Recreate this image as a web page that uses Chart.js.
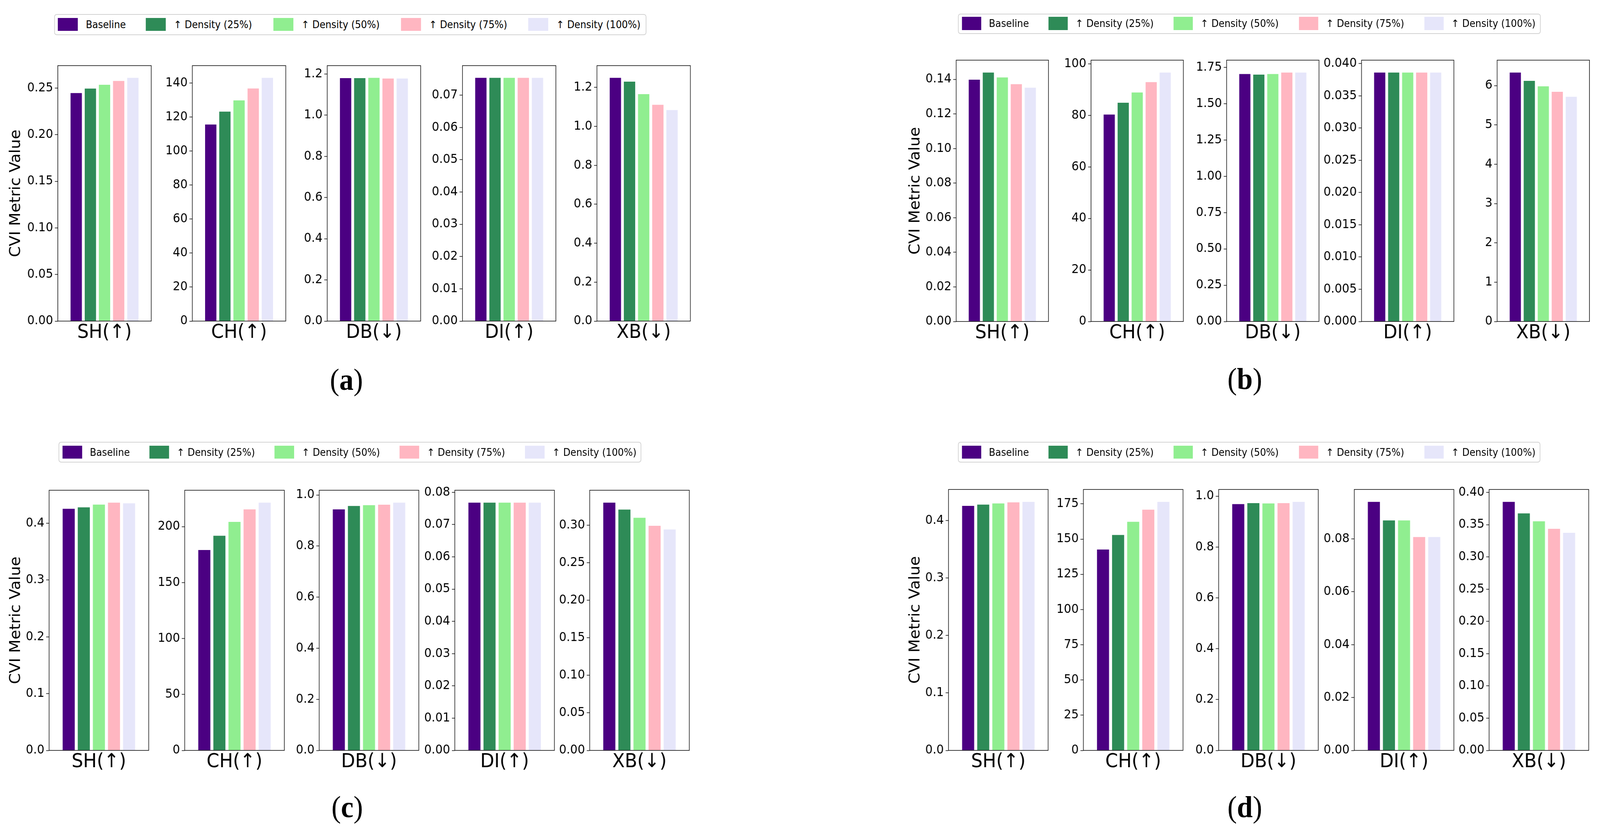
<!DOCTYPE html>
<html>
<head>
<meta charset="utf-8">
<script src="https://cdn.jsdelivr.net/npm/chart.js@4.4.0/dist/chart.umd.min.js"></script>
<style>
    html, body { margin: 0; padding: 0; background: #fff; overflow: hidden; }
    #page { position: absolute; left: 0; top: 0; width: 4401px; height: 2135px; transform-origin: 0 0; font-family: "DejaVu Sans"; }
    canvas { position: absolute; }
    .legend { position: absolute; border: 2px solid #d3d3d3; border-radius: 7px; background: #fff; box-sizing: border-box; }
    .swatch { position: absolute; }
    .legend-text { position: absolute; font-family: "DejaVu Sans"; font-size: 26px; line-height: 1; white-space: nowrap; transform: translateY(-50%); color: #000; }
    .caption { position: absolute; font-family: "Liberation Serif"; font-size: 78px; line-height: 1; transform: translate(-50%, -50%); color: #000; }
</style>
</head>
<body>
<div id="page"></div>
<script>
const seriesNames = ["Baseline", "↑ Density (25%)", "↑ Density (50%)", "↑ Density (75%)", "↑ Density (100%)"];
const seriesColors = ["#4B0082", "#2E8B57", "#90EE90", "#FFB6C1", "#E6E6FA"];
const metricNames = ["SH(↑)", "CH(↑)", "DB(↓)", "DI(↑)", "XB(↓)"];

// panel (a)
const a_SH = [0.2447, 0.2495, 0.2536, 0.2577, 0.2611];
const a_CH = [115.6, 123.2, 129.8, 136.8, 143.1];
const a_DB = [1.180, 1.180, 1.1815, 1.178, 1.178];
const a_DI = [0.0754, 0.0754, 0.0754, 0.0754, 0.0754];
const a_XB = [1.2496, 1.230, 1.1655, 1.111, 1.0837];
const a_SH_ticks = ["0.00", "0.05", "0.10", "0.15", "0.20", "0.25"];
const a_CH_ticks = ["0", "20", "40", "60", "80", "100", "120", "140"];
const a_DB_ticks = ["0.0", "0.2", "0.4", "0.6", "0.8", "1.0", "1.2"];
const a_DI_ticks = ["0.00", "0.01", "0.02", "0.03", "0.04", "0.05", "0.06", "0.07"];
const a_XB_ticks = ["0.0", "0.2", "0.4", "0.6", "0.8", "1.0", "1.2"];

// panel (b)
const b_SH = [0.1398, 0.1439, 0.1411, 0.1372, 0.1352];
const b_CH = [80.3, 84.9, 88.9, 92.9, 96.6];
const b_DB = [1.704, 1.700, 1.704, 1.714, 1.714];
const b_DI = [0.0386, 0.0386, 0.0386, 0.0386, 0.0386];
const b_XB = [6.330, 6.121, 5.981, 5.841, 5.714];
const b_SH_ticks = ["0.00", "0.02", "0.04", "0.06", "0.08", "0.10", "0.12", "0.14"];
const b_CH_ticks = ["0", "20", "40", "60", "80", "100"];
const b_DB_ticks = ["0.00", "0.25", "0.50", "0.75", "1.00", "1.25", "1.50", "1.75"];
const b_DI_ticks = ["0.000", "0.005", "0.010", "0.015", "0.020", "0.025", "0.030", "0.035", "0.040"];
const b_XB_ticks = ["0", "1", "2", "3", "4", "5", "6"];

// panel (c)
const c_SH = [0.4255, 0.4281, 0.4329, 0.4364, 0.4351];
const c_CH = [179.1, 191.8, 204.2, 215.4, 221.4];
const c_DB = [0.9434, 0.957, 0.960, 0.962, 0.970];
const c_DI = [0.0768, 0.0768, 0.0768, 0.0768, 0.0768];
const c_XB = [0.3299, 0.3206, 0.3097, 0.2990, 0.2941];
const c_SH_ticks = ["0.0", "0.1", "0.2", "0.3", "0.4"];
const c_CH_ticks = ["0", "50", "100", "150", "200"];
const c_DB_ticks = ["0.0", "0.2", "0.4", "0.6", "0.8", "1.0"];
const c_DI_ticks = ["0.00", "0.01", "0.02", "0.03", "0.04", "0.05", "0.06", "0.07", "0.08"];
const c_XB_ticks = ["0.00", "0.05", "0.10", "0.15", "0.20", "0.25", "0.30"];

// panel (d)
const d_SH = [0.4256, 0.4278, 0.4299, 0.4317, 0.4325];
const d_CH = [142.6, 152.9, 162.3, 170.9, 176.4];
const d_DB = [0.9686, 0.9725, 0.9716, 0.9725, 0.9775];
const d_DI = [0.0940, 0.0870, 0.0870, 0.0807, 0.0807];
const d_XB = [0.3853, 0.3675, 0.3552, 0.3436, 0.3374];
const d_SH_ticks = ["0.0", "0.1", "0.2", "0.3", "0.4"];
const d_CH_ticks = ["0", "25", "50", "75", "100", "125", "150", "175"];
const d_DB_ticks = ["0.0", "0.2", "0.4", "0.6", "0.8", "1.0"];
const d_DI_ticks = ["0.00", "0.02", "0.04", "0.06", "0.08"];
const d_XB_ticks = ["0.00", "0.05", "0.10", "0.15", "0.20", "0.25", "0.30", "0.35", "0.40"];

// layout of each panel (pixels in the 4401x2135 page)
const panels = [
    {
        label: "a", values: [a_SH, a_CH, a_DB, a_DI, a_XB], ticks: [a_SH_ticks, a_CH_ticks, a_DB_ticks, a_DI_ticks, a_XB_ticks],
        top: 168, height: 654, lefts: [159, 529, 900, 1272, 1642], width: 257, ylabelGap: 114,
        legend: { left: 149, top: 36, width: 1629, height: 54, swatches: [159, 401, 752, 1103, 1453], swTop: 46, swW: 55, swH: 33, textGap: 77 },
        caption: { x: 953, y: 972 }
    },
    {
        label: "b", values: [b_SH, b_CH, b_DB, b_DI, b_XB], ticks: [b_SH_ticks, b_CH_ticks, b_DB_ticks, b_DI_ticks, b_XB_ticks],
        top: 154, height: 669, lefts: [2630, 3001, 3374, 3745, 4118], width: 254, ylabelGap: 111,
        legend: { left: 2635, top: 35, width: 1603, height: 52, swatches: [2646, 2884, 3228, 3573, 3918], swTop: 43, swW: 53, swH: 34, textGap: 74 },
        caption: { x: 3424, y: 970 }
    },
    {
        label: "c", values: [c_SH, c_CH, c_DB, c_DI, c_XB], ticks: [c_SH_ticks, c_CH_ticks, c_DB_ticks, c_DI_ticks, c_XB_ticks],
        top: 1255, height: 666, lefts: [135, 508, 878, 1251, 1622], width: 274, ylabelGap: 90,
        legend: { left: 161, top: 1131, width: 1603, height: 53, swatches: [172, 411, 755, 1099, 1444], swTop: 1141, swW: 54, swH: 33, textGap: 75 },
        caption: { x: 955, y: 2066 }
    },
    {
        label: "d", values: [d_SH, d_CH, d_DB, d_DI, d_XB], ticks: [d_SH_ticks, d_CH_ticks, d_DB_ticks, d_DI_ticks, d_XB_ticks],
        top: 1253, height: 668, lefts: [2609, 2980, 3352, 3725, 4096], width: 274, ylabelGap: 90,
        legend: { left: 2635, top: 1131, width: 1602, height: 53, swatches: [2646, 2884, 3228, 3573, 3918], swTop: 1141, swW: 53, swH: 33, textGap: 74 },
        caption: { x: 3424, y: 2066 }
    }
];

const page = document.getElementById('page');

// the browser window may come out narrower than 4401 (it is capped at 4096),
// so stretch the page onto whatever viewport we get
function fitPage() {
    const sx = window.innerWidth / 4401;
    const sy = window.innerHeight / 2135;
    page.style.transform = 'scale(' + sx + ',' + sy + ')';
}
fitPage();

// full box around the axes, like matplotlib spines
const framePlugin = {
    id: 'frame',
    afterDatasetsDraw(chart) {
        const { ctx, chartArea: a } = chart;
        ctx.save();
        ctx.strokeStyle = '#000';
        ctx.lineWidth = 1.5;
        ctx.strokeRect(a.left, a.top, a.right - a.left, a.bottom - a.top);
        ctx.restore();
    }
};

function makeSubplot(p, m) {
    const vals = p.values[m];
    const tickLabels = p.ticks[m];
    const tickVals = tickLabels.map(Number);
    const first = m === 0;
    const leftW = first ? 150 : 110;
    const topPad = 30, bottomH = 60, rightPad = 10, extra = 5;
    const w = leftW + p.width + rightPad;
    const h = topPad + p.height + bottomH + extra;

    let canvas = document.createElement('canvas');
    canvas.width = w;
    canvas.height = h;
    canvas.style.width = w + 'px';
    canvas.style.height = h + 'px';
    canvas.style.left = (p.lefts[m] - leftW) + 'px';
    canvas.style.top = (p.top - topPad) + 'px';
    page.appendChild(canvas);

    new Chart(canvas, {
        type: 'bar',
        data: {
            datasets: seriesNames.map((name, i) => ({
                label: name,
                data: [{ x: i, y: vals[i] }],
                backgroundColor: seriesColors[i],
                borderWidth: 0,
                grouped: false,
                barPercentage: 0.8,
                categoryPercentage: 1.0
            }))
        },
        options: {
            responsive: false,
            animation: false,
            devicePixelRatio: 1,
            layout: { padding: { left: 0, right: rightPad, top: topPad, bottom: extra } },
            plugins: { legend: { display: false }, tooltip: { enabled: false } },
            scales: {
                x: {
                    type: 'linear',
                    min: -0.64,
                    max: 4.64,
                    grid: { display: false },
                    border: { display: false },
                    ticks: { display: false },
                    afterFit: (s) => { s.height = bottomH; },
                    title: { display: true, text: metricNames[m], color: '#000', font: { family: 'DejaVu Sans', size: 50 }, padding: 0 }
                },
                y: {
                    min: 0,
                    max: Math.max(...vals) * 1.05,
                    afterBuildTicks: (s) => { s.ticks = tickVals.map(v => ({ value: v })); },
                    afterFit: (s) => { s.width = leftW; },
                    ticks: { autoSkip: false, color: '#000', padding: 5, font: { family: 'DejaVu Sans', size: 32 }, callback: (v, i) => tickLabels[i] },
                    grid: { drawOnChartArea: false, drawTicks: true, tickLength: 8, tickColor: '#000', tickWidth: 1.5 },
                    border: { display: false },
                    title: {
                        display: first, text: 'CVI Metric Value', color: '#000',
                        font: { family: 'DejaVu Sans', size: 40 },
                        padding: { top: leftW - p.ylabelGap - 24, bottom: 0 }
                    }
                }
            }
        },
        plugins: [framePlugin]
    });
}

function makeLegend(p) {
    const L = p.legend;
    let box = document.createElement('div');
    box.className = 'legend';
    box.style.left = L.left + 'px';
    box.style.top = L.top + 'px';
    box.style.width = L.width + 'px';
    box.style.height = L.height + 'px';
    page.appendChild(box);
    seriesNames.forEach((name, i) => {
        let sw = document.createElement('div');
        sw.className = 'swatch';
        sw.style.left = L.swatches[i] + 'px';
        sw.style.top = L.swTop + 'px';
        sw.style.width = L.swW + 'px';
        sw.style.height = L.swH + 'px';
        sw.style.background = seriesColors[i];
        page.appendChild(sw);
        let t = document.createElement('div');
        t.className = 'legend-text';
        t.textContent = name;
        t.style.left = (L.swatches[i] + L.textGap) + 'px';
        t.style.top = (L.swTop + L.swH / 2) + 'px';
        page.appendChild(t);
    });
}

function makeCaption(p) {
    let c = document.createElement('div');
    c.className = 'caption';
    c.innerHTML = '(<b>' + p.label + '</b>)';
    c.style.left = p.caption.x + 'px';
    c.style.top = p.caption.y + 'px';
    page.appendChild(c);
}

panels.forEach(p => {
    makeLegend(p);
    for (let m = 0; m < metricNames.length; m++) {
        makeSubplot(p, m);
    }
    makeCaption(p);
});
</script>
</body>
</html>
